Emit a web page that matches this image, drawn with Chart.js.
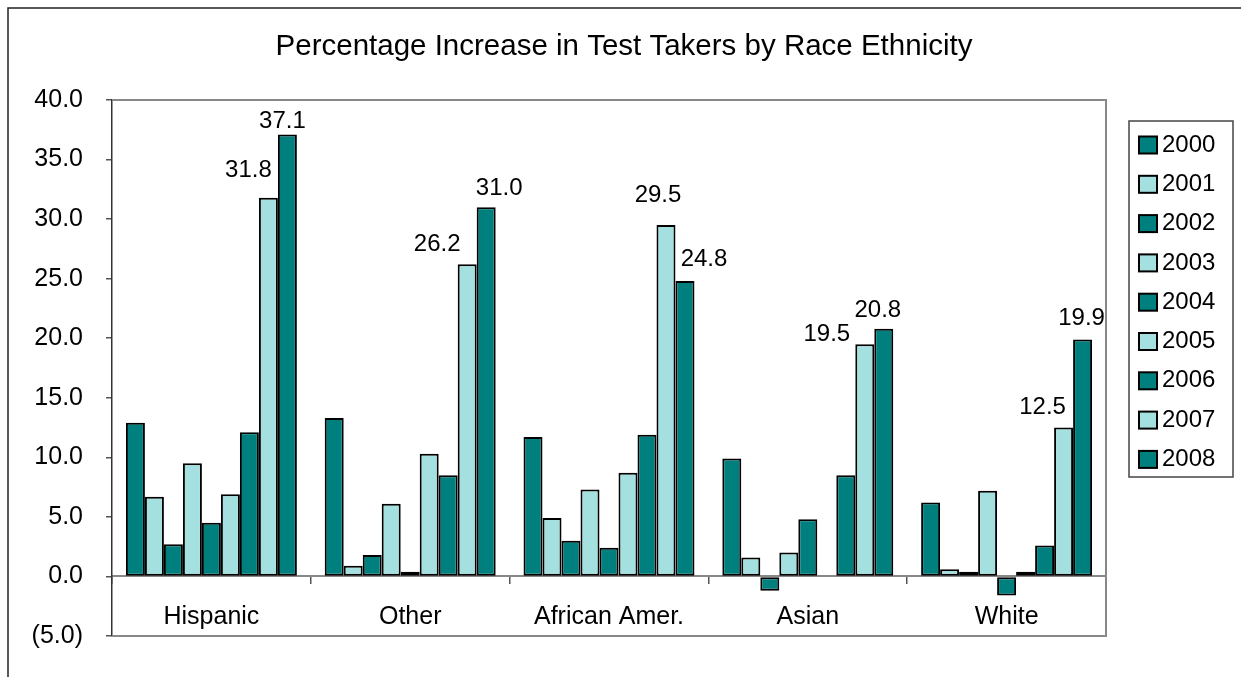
<!DOCTYPE html>
<html>
<head>
<meta charset="utf-8">
<script src="https://cdn.jsdelivr.net/npm/chart.js@4/dist/chart.umd.min.js"></script>
<style>
  html, body { margin: 0; padding: 0; background: #fff; }
  canvas { display: block; }
</style>
</head>
<body>
<canvas id="c" width="1241" height="677"></canvas>
<script>
const chartTitle = 'Percentage Increase in Test Takers by Race Ethnicity';
const categories = ['Hispanic', 'Other', 'African Amer.', 'Asian', 'White'];
const years = ['2000', '2001', '2002', '2003', '2004', '2005', '2006', '2007', '2008'];
const y2000 = [12.9, 13.3, 11.7, 9.9, 6.2];
const y2001 = [6.7, 0.9, 4.9, 1.6, 0.6];
const y2002 = [2.7, 1.8, 3.0, -1.2, 0.4];
const y2003 = [9.5, 6.1, 7.3, 2.0, 7.2];
const y2004 = [4.5, 0.4, 2.4, 4.8, -1.6];
const y2005 = [6.9, 10.3, 8.7, 0.0, 0.4];
const y2006 = [12.1, 8.5, 11.9, 8.5, 2.6];
const y2007 = [31.8, 26.2, 29.5, 19.5, 12.5];
const y2008 = [37.1, 31.0, 24.8, 20.8, 19.9];
const seriesValues = [y2000, y2001, y2002, y2003, y2004, y2005, y2006, y2007, y2008];
const yTickMin = -5, yTickMax = 40, yTickStep = 5;
const labelledSeries = ['2007', '2008'];

const DARK = '#007F7F';
const LIGHT = '#A4E0E0';
const FONT = "'Liberation Sans', Arial, sans-serif";

// label offsets (label centre relative to bar top centre), per labelled series
const labelOffsets = {
  '2007': [[-20, -27], [-30, -20], [-8, -30], [-38, -10], [-21, -20]],
  '2008': [[-5, -13], [13, -19], [19, -22], [-6, -18], [-1, -21]]
};

const datasets = years.map((yr, i) => ({
  label: yr,
  data: seriesValues[i],
  backgroundColor: i % 2 === 0 ? DARK : LIGHT,
  borderColor: '#000',
  borderWidth: 2,
  borderSkipped: false
}));

const decorPlugin = {
  id: 'decor',
  beforeDraw(chart) {
    const ctx = chart.ctx;
    ctx.save();
    ctx.fillStyle = '#fff';
    ctx.fillRect(0, 0, chart.width, chart.height);
    ctx.strokeStyle = '#222';
    ctx.lineWidth = 1.5;
    ctx.beginPath();
    ctx.moveTo(8, chart.height);
    ctx.lineTo(8, 8);
    ctx.lineTo(chart.width, 8);
    ctx.stroke();
    ctx.fillStyle = '#000';
    ctx.font = '29.5px ' + FONT;
    ctx.textAlign = 'center';
    ctx.textBaseline = 'alphabetic';
    ctx.fillText(chartTitle, 624, 55);
    ctx.restore();
  },
  beforeDatasetsDraw(chart) {
    const ctx = chart.ctx;
    const a = chart.chartArea;
    ctx.save();
    ctx.strokeStyle = '#888';
    ctx.lineWidth = 2;
    ctx.beginPath();
    ctx.moveTo(a.left, a.top);
    ctx.lineTo(a.right, a.top);
    ctx.lineTo(a.right, a.bottom);
    ctx.lineTo(a.left, a.bottom);
    ctx.stroke();
    ctx.restore();
  },
  afterDatasetsDraw(chart) {
    const ctx = chart.ctx;
    ctx.save();
    ctx.fillStyle = '#000';
    ctx.font = '24px ' + FONT;
    ctx.textAlign = 'center';
    ctx.textBaseline = 'middle';
    chart.data.datasets.forEach((ds, di) => {
      if (!labelledSeries.includes(ds.label)) return;
      const meta = chart.getDatasetMeta(di);
      meta.data.forEach((bar, i) => {
        const off = labelOffsets[ds.label][i];
        ctx.fillText(ds.data[i].toFixed(1), bar.x + off[0], bar.y + off[1]);
      });
    });
    ctx.restore();
  },
  afterDraw(chart) {
    const ctx = chart.ctx;
    ctx.save();
    const bx = 1129, by = 121, bw = 104, bh = 356;
    ctx.strokeStyle = '#444';
    ctx.lineWidth = 1.5;
    ctx.strokeRect(bx, by, bw, bh);
    ctx.font = '24px ' + FONT;
    ctx.textBaseline = 'middle';
    ctx.textAlign = 'left';
    chart.data.datasets.forEach((ds, i) => {
      const cy = 145 + i * 39.3;
      ctx.fillStyle = ds.backgroundColor;
      ctx.fillRect(1139, cy - 8.5, 18, 17);
      ctx.strokeStyle = '#000';
      ctx.lineWidth = 2;
      ctx.strokeRect(1139, cy - 8.5, 18, 17);
      ctx.fillStyle = '#000';
      ctx.fillText(ds.label, 1162, cy);
    });
    ctx.restore();
  }
};

new Chart(document.getElementById('c'), {
  type: 'bar',
  data: { labels: categories, datasets },
  options: {
    responsive: false,
    animation: false,
    devicePixelRatio: 1,
    layout: { padding: { top: 100, bottom: 41, left: 0, right: 135 } },
    plugins: { legend: { display: false }, title: { display: false }, tooltip: { enabled: false } },
    datasets: { bar: { categoryPercentage: 0.86, barPercentage: 1.0 } },
    scales: {
      x: {
        axis: 'x',
        position: { y: 0 },
        offset: true,
        grid: { offset: true, drawOnChartArea: false, drawTicks: true, tickLength: 7, color: '#555', lineWidth: 1.5 },
        border: { display: true, color: '#888', width: 2 },
        ticks: { padding: 19, color: '#000', font: { family: FONT, size: 25 }, maxRotation: 0, autoSkip: false }
      },
      y: {
        position: 'left',
        min: yTickMin,
        max: yTickMax,
        afterFit(s) { s.width = 112; },
        grid: { drawOnChartArea: false, drawTicks: true, tickLength: 6, color: '#555', lineWidth: 1.5 },
        border: { display: true, color: '#333', width: 1.5 },
        ticks: {
          stepSize: yTickStep,
          padding: 23,
          color: '#000',
          font: { family: FONT, size: 25 },
          callback: v => v < 0 ? '(' + Math.abs(v).toFixed(1) + ')' : v.toFixed(1)
        }
      }
    }
  },
  plugins: [decorPlugin]
});
</script>
</body>
</html>
